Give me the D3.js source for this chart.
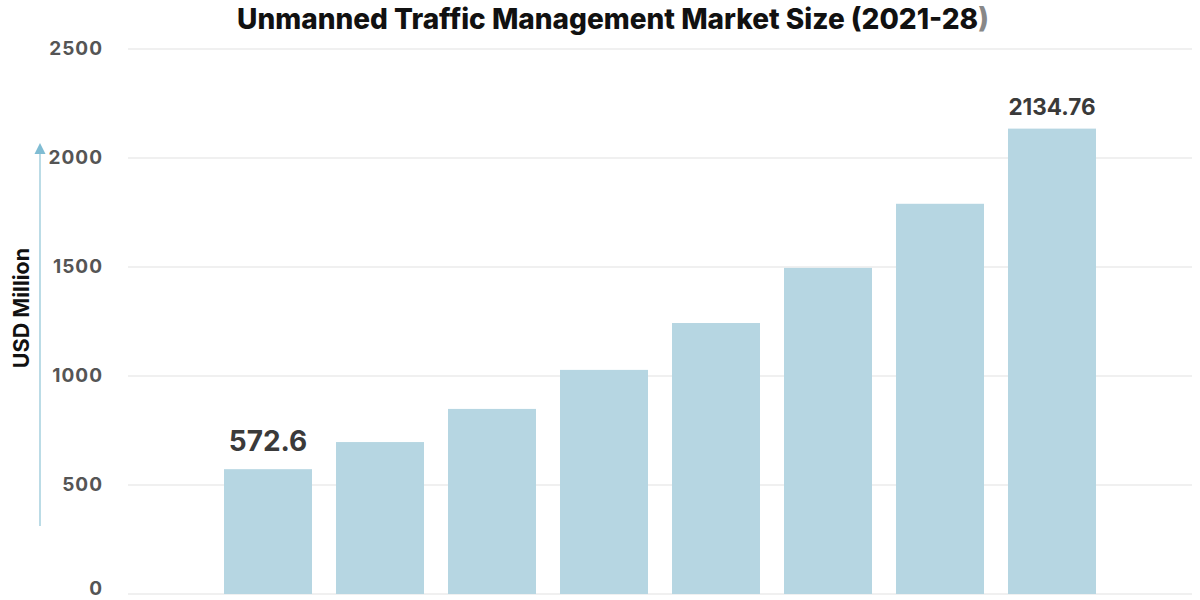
<!DOCTYPE html>
<html><head><meta charset="utf-8">
<script src="https://cdn.jsdelivr.net/npm/d3@7"></script>
<style>body{margin:0;background:#fff}svg{display:block}</style>
</head><body><svg id="c" width="1200" height="600"></svg>
<script>
const years = ["2021","2022","2023","2024","2025","2026","2027","2028"];
const values = [572.6, 697, 849, 1028, 1243, 1496, 1790, 2134.76];
const labelled = ["572.6", null, null, null, null, null, null, "2134.76"];
const yTicks = [0, 500, 1000, 1500, 2000, 2500];

const svg = d3.select("#c");
const font = "Inter, 'Open Sans', sans-serif";
const x = d3.scaleBand().domain(years).range([212, 1108]).paddingInner(24/112).paddingOuter(12/112);
const y = d3.scaleLinear().domain([0, 2500]).range([594, 49]);

// grid
svg.append("g").selectAll("line").data(yTicks).join("line")
  .attr("x1", 128).attr("x2", 1192)
  .attr("y1", d => y(d)).attr("y2", d => y(d))
  .attr("stroke", "#e2e2e2").attr("stroke-width", 1.2);

// y tick labels
const yAxis = d3.axisLeft(y).tickValues(yTicks).tickFormat(d3.format("d")).tickSize(0).tickPadding(0);
const ga = svg.append("g").attr("transform", "translate(103,0)").call(yAxis);
ga.select(".domain").remove();
ga.selectAll("text").attr("font-family", font).attr("font-size", 19).attr("font-weight", 700)
  .attr("letter-spacing", 1).attr("fill", "#555").attr("dy", d => d === 0 ? "0.05em" : "0.27em");

// bars
svg.append("g").selectAll("rect").data(values).join("rect")
  .attr("x", (d, i) => x(years[i])).attr("width", x.bandwidth())
  .attr("y", d => y(d)).attr("height", d => y(0) - y(d))
  .attr("fill", "#b6d6e2");

// value labels
const lab = values.map((v, i) => ({v, i, t: labelled[i]})).filter(d => d.t !== null);
svg.append("g").selectAll("text").data(lab).join("text")
  .attr("x", d => x(years[d.i]) + x.bandwidth() / 2)
  .attr("y", d => y(d.v) - (d.v < 1000 ? 18 : 14))
  .attr("text-anchor", "middle")
  .attr("font-family", font).attr("font-weight", 700)
  .attr("font-size", d => d.v < 1000 ? 28 : 22.5)
  .attr("fill", "#3a3a3a")
  .text(d => d.t);

// axis arrow
svg.append("line").attr("x1", 40).attr("x2", 40).attr("y1", 526).attr("y2", 150)
  .attr("stroke", "#8ec4d6").attr("stroke-width", 1.2);
svg.append("path").attr("d", "M34.5,154 L40,143 L45.5,154 Z").attr("fill", "#7fbcd3");

// y label
svg.append("text").attr("transform", "translate(29,308) rotate(-90)")
  .attr("text-anchor", "middle").attr("font-family", font).attr("font-weight", 700)
  .attr("font-size", 21.5).attr("fill", "#111").text("USD Million");

// title
const t = svg.append("text").attr("x", 613).attr("y", 29).attr("text-anchor", "middle")
  .attr("font-family", font).attr("font-weight", 800).attr("font-size", 28).attr("fill", "#111");
t.append("tspan").text("Unmanned Traffic Management Market Size (2021-28");
t.append("tspan").attr("fill", "#888").text(")");
</script></body></html>
